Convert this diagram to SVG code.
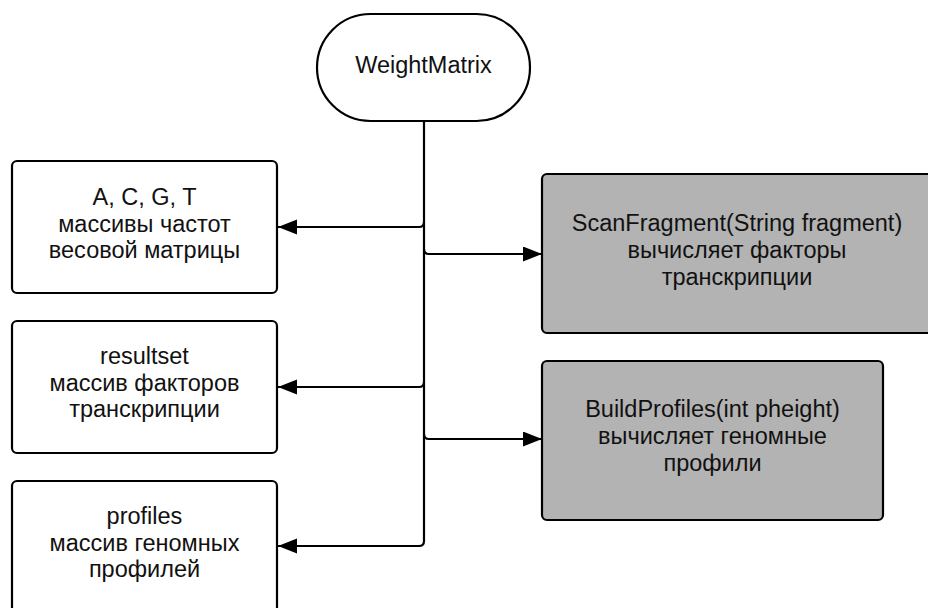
<svg xmlns="http://www.w3.org/2000/svg" width="928" height="608" viewBox="0 0 928 608">
<style>
.box{fill:#fff;stroke:#000;stroke-width:2.2}
.gray{fill:#b3b3b3;stroke:#000;stroke-width:2.2}
.t{font-family:"Liberation Sans",Arial,sans-serif;font-size:23.5px;fill:#111;text-anchor:middle}
.c{fill:none;stroke:#000;stroke-width:2.2}
</style>
<defs>
<marker id="ah" markerUnits="userSpaceOnUse" markerWidth="22" markerHeight="16" refX="19" refY="7.5" orient="auto">
<path d="M0,0 L19,7.5 L0,15 z" fill="#000"/>
</marker>
</defs>
<g id="connectors">
<path class="c" d="M424,121 V541 Q424,546 419,546 H278" marker-end="url(#ah)"/>
<path class="c" d="M424,222 Q424,227 419,227 H278" marker-end="url(#ah)"/>
<path class="c" d="M424,382 Q424,387 419,387 H278" marker-end="url(#ah)"/>
<path class="c" d="M424,249 Q424,254 429,254 H542" marker-end="url(#ah)"/>
<path class="c" d="M424,434 Q424,439 429,439 H542" marker-end="url(#ah)"/>
</g>
<g id="weightmatrix">
<rect class="box" x="317" y="14" width="213" height="107" rx="53.5"/>
<text class="t" x="423.5" y="73">WeightMatrix</text>
</g>
<g id="acgt">
<rect class="box" x="12" y="161" width="265" height="132" rx="5"/>
<text class="t" x="144.5" y="205">A, C, G, T</text>
<text class="t" x="144.5" y="231.5">массивы частот</text>
<text class="t" x="144.5" y="258">весовой матрицы</text>
</g>
<g id="resultset">
<rect class="box" x="12" y="321" width="265" height="132" rx="5"/>
<text class="t" x="144.5" y="364">resultset</text>
<text class="t" x="144.5" y="390.5">массив факторов</text>
<text class="t" x="144.5" y="417">транскрипции</text>
</g>
<g id="profiles">
<rect class="box" x="12" y="481" width="265" height="140" rx="5"/>
<text class="t" x="144.5" y="524">profiles</text>
<text class="t" x="144.5" y="550.5">массив геномных</text>
<text class="t" x="144.5" y="577">профилей</text>
</g>
<g id="scanfragment">
<rect class="gray" x="542" y="174" width="392" height="159" rx="5"/>
<text class="t" x="737" y="231">ScanFragment(String fragment)</text>
<text class="t" x="737" y="258">вычисляет факторы</text>
<text class="t" x="737" y="285">транскрипции</text>
</g>
<g id="buildprofiles">
<rect class="gray" x="542" y="361" width="341" height="159" rx="5"/>
<text class="t" x="712.5" y="417">BuildProfiles(int pheight)</text>
<text class="t" x="712.5" y="444">вычисляет геномные</text>
<text class="t" x="712.5" y="471">профили</text>
</g>
</svg>
